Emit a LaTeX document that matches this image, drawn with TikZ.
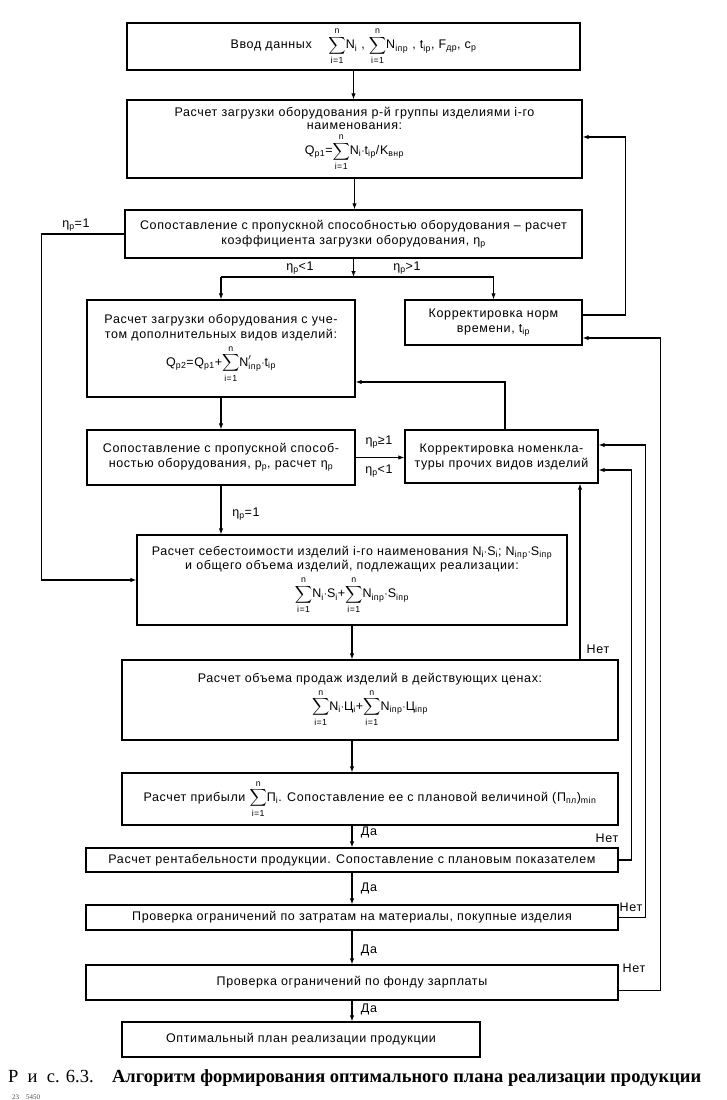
\documentclass[tikz,border=0pt]{standalone}
\usepackage{fontspec}
\usepackage{amsmath}
\setmainfont{Liberation Sans}[LetterSpace=5]
\newfontfamily\capfont{Liberation Serif}
\usetikzlibrary{arrows.meta}
\newcommand\lsub[1]{\textsubscript{#1}}
\newcommand\Sm{\ensuremath{\displaystyle\sum\limits_{\text{i=1}}^{\text{n}}}}
\newcommand\fs{\fontsize{12.5}{15}\selectfont}
\begin{document}
\begin{tikzpicture}[x=1pt,y=-1pt,
  bx/.style={draw, line width=1.3pt, align=center, inner sep=2pt, font=\fs},
  ar/.style={-{Latex[length=6pt,width=4.5pt]}, line width=1.1pt},
  ln/.style={line width=1.1pt},
  lbl/.style={font=\fs, inner sep=1pt}]
\useasboundingbox (0,0) rectangle (727,1100);
\fill[white] (0,0) rectangle (727,1100);

\node[bx, minimum width=453pt, minimum height=47pt] (b1) at (353.5,46.5)
  {Ввод данных\quad\ \Sm N\lsub{i} , \Sm N\lsub{iпр} , t\lsub{ip}, F\lsub{др}, c\lsub{p}};
\node[bx, minimum width=455pt, minimum height=78pt] (b2) at (354.5,139)
  {Расчет загрузки оборудования р-й группы изделиями i-го\\[-2pt] наименования:\\[3pt]
   Q\lsub{p1}=\Sm N\lsub{i}$\cdot$t\lsub{ip}/K\lsub{внр}};
\node[bx, minimum width=457pt, minimum height=48pt] (b3) at (353.5,234)
  {Сопоставление с пропускной способностью оборудования – расчет\\ коэффициента загрузки оборудования, η\lsub{p}};
\node[bx, minimum width=268pt, minimum height=97pt] (b4) at (221,348.5)
  {Расчет загрузки оборудования с уче-\\том дополнительных видов изделий:\\[3pt]
   Q\lsub{p2}=Q\lsub{p1}+\Sm$\text{N}'_{\text{iпр}}$$\cdot$t\lsub{ip}};
\node[bx, minimum width=177pt, minimum height=45pt] (b5) at (493.5,322.5)
  {Корректировка норм\\ времени, t\lsub{ip}};
\node[bx, minimum width=268pt, minimum height=55pt] (b7) at (221,457.5)
  {Сопоставление с пропускной способ-\\ностью оборудования, p\lsub{p}, расчет η\lsub{p}};
\node[bx, minimum width=193pt, minimum height=53pt] (b6) at (501.5,456.5)
  {Корректировка номенкла-\\туры прочих видов изделий};
\node[bx, minimum width=430pt, minimum height=90pt] (b8) at (352,580)
  {Расчет себестоимости изделий i-го наименования N\lsub{i}$\cdot$S\lsub{i}; N\lsub{iпр}$\cdot$S\lsub{iпр}\\[-1pt]
   и общего объема изделий, подлежащих реализации:\\[4pt]
   \Sm N\lsub{i}$\cdot$S\lsub{i}+\Sm N\lsub{iпр}$\cdot$S\lsub{iпр}};
\node[bx, minimum width=496pt, minimum height=80pt] (b9) at (370,700)
  {Расчет объема продаж изделий в действующих ценах:\\[3pt]
   \Sm N\lsub{i}$\cdot$Ц\lsub{i}+\Sm N\lsub{iпр}$\cdot$Ц\lsub{iпр}};
\node[bx, minimum width=496pt, minimum height=52pt] (b10) at (370,799)
  {Расчет прибыли \Sm П\lsub{i}. Сопоставление ее с плановой величиной (П\lsub{пл})\lsub{min}};
\node[bx, minimum width=532pt, minimum height=24pt] (b11) at (352,860)
  {Расчет рентабельности продукции. Сопоставление с плановым показателем};
\node[bx, minimum width=532pt, minimum height=25pt] (b12) at (352,917.5)
  {Проверка ограничений по затратам на материалы, покупные изделия};
\node[bx, minimum width=532pt, minimum height=35pt] (b13) at (352,982.5)
  {Проверка ограничений по фонду зарплаты};
\node[bx, minimum width=358pt, minimum height=35pt] (b14) at (301,1039.5)
  {Оптимальный план реализации продукции};

% main column
\draw[ar] (b1.south) -- (b1.south |- b2.north);
\draw[ar] (b2.south) -- (b2.south |- b3.north);
\coordinate (br) at (355,277);
\draw[ar] (b3.south) -- (b3.south |- br);
\draw[ln] (b4.north |- br) -- (b5.north |- br);
\draw[ar] (b4.north |- br) -- (b4.north);
\draw[ar] (b5.north |- br) -- (b5.north);
\draw[ar] (b4.south) -- (b4.south |- b7.north);
\draw[ar] (b7.east) -- (b7.east -| b6.west);
\draw[ar] (b7.south) -- (b7.south |- b8.north);
\draw[ar] (b3.west) -- ++(-83,0) |- (b8.west);
\draw[ar] ([xshift=3.5pt]b6.north) |- ([yshift=-33.5pt]b4.east);
\draw[ar] ([yshift=7.5pt]b5.east) -- ++(43,0) |- ([yshift=2pt]b2.east);
\draw[ar] (b8.south) -- (b8.south |- b9.north);
\draw[ar] ([xshift=210pt]b9.north) -- ([xshift=210pt]b9.north |- b6.south);
\draw[ar] (b9.south -| b8.south) -- (b8.south |- b10.north);
\draw[ar] (b10.south -| b8.south) -- (b8.south |- b11.north);
\draw[ar] (b11.south -| b8.south) -- (b8.south |- b12.north);
\draw[ar] (b12.south -| b8.south) -- (b8.south |- b13.north);
\draw[ar] (b13.south -| b8.south) -- (b8.south |- b14.north);
\draw[ar] (b11.east) -- ++(13,0) |- ([yshift=-13.5pt]b6.east);
\draw[ar] (b12.east) -- ++(27,0) |- ([yshift=11.5pt]b6.east);
\draw[ar] ([yshift=-8pt]b13.east) -- ++(42,0) |- ([yshift=-15.5pt]b5.east);

% labels
\node[lbl] (l1) at (76,225) {η\lsub{p}=1};
\node[lbl] (l2) at (300,268) {η\lsub{p}<1};
\node[lbl] (l3) at (407,268) {η\lsub{p}>1};
\node[lbl] (l4) at (379,442) {η\lsub{p}≥1};
\node[lbl] (l5) at (379,471) {η\lsub{p}<1};
\node[lbl] (l6) at (246,514) {η\lsub{p}=1};
\node[lbl] (l7) at (598,649) {Нет};
\node[lbl] (l8) at (369,832) {Да};
\node[lbl] (l9) at (607,838) {Нет};
\node[lbl] (l10) at (369,888) {Да};
\node[lbl] (l11) at (631,907) {Нет};
\node[lbl] (l12) at (369,950) {Да};
\node[lbl] (l13) at (634,968) {Нет};
\node[lbl] (l14) at (369,1009) {Да};

\node[anchor=west, inner sep=0pt, font=\capfont\fontsize{18.5}{20}\selectfont] (cap) at (8,1078)
  {Р\enspace и\enspace с. 6.3.\quad \textbf{Алгоритм формирования оптимального плана реализации продукции}};
\node[anchor=west, inner sep=0pt, font=\capfont\fontsize{7}{8}\selectfont, text=black!70] (pg) at (12,1097) {23\quad 5450};
\end{tikzpicture}
\end{document}
